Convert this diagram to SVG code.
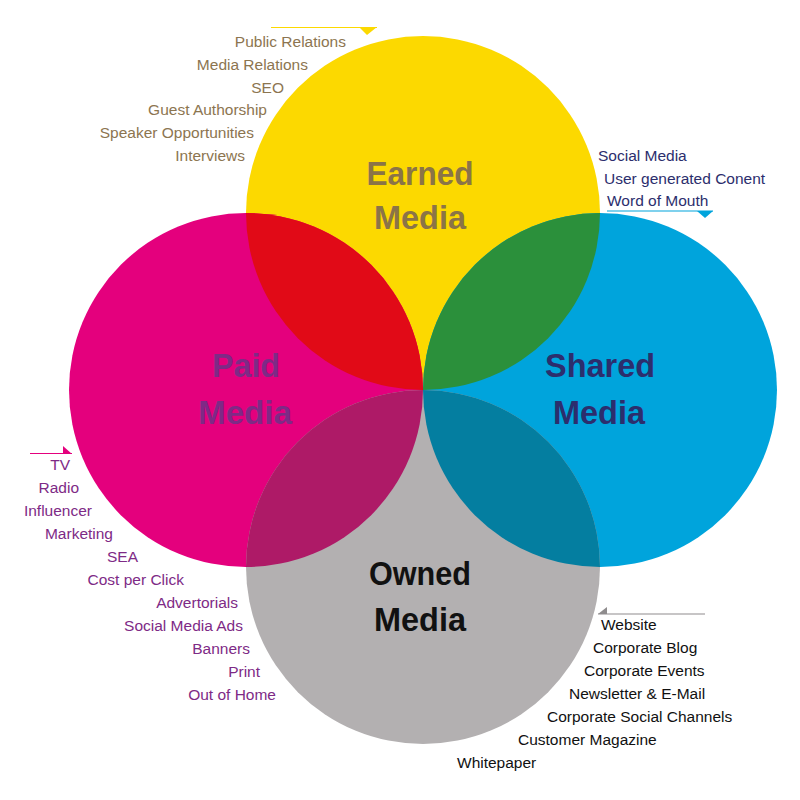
<svg xmlns="http://www.w3.org/2000/svg" width="800" height="800" viewBox="0 0 800 800">
<style>
.t{font-family:"Liberation Sans",Arial,sans-serif;font-weight:bold;font-size:34px;text-anchor:middle}
.s{font-family:"Liberation Sans",Arial,sans-serif;font-size:15.5px}
.e{text-anchor:end}
.earned{fill:#8C7550}
.paid{fill:#7E2A86}
.shared{fill:#2C2E6D}
.owned{fill:#111}
</style>
<rect width="800" height="800" fill="#fff"/>
<g id="circles">
<circle id="c-earned" cx="423" cy="213" r="177" fill="#FCD900"/>
<circle id="c-paid" cx="246" cy="390" r="177" fill="#E4007D"/>
<circle id="c-shared" cx="600" cy="390" r="177" fill="#00A4DC"/>
<circle id="c-owned" cx="423" cy="567" r="177" fill="#B3B0B1"/>
<path d="M246,213 A177,177 0 0 0 423,390 A177,177 0 0 0 246,213Z" fill="#E10A17"/>
<path d="M600,213 A177,177 0 0 1 423,390 A177,177 0 0 1 600,213Z" fill="#2B903B"/>
<path d="M423,390 A177,177 0 0 1 246,567 A177,177 0 0 1 423,390Z" fill="#AE1A67"/>
<path d="M423,390 A177,177 0 0 0 600,567 A177,177 0 0 0 423,390Z" fill="#047EA0"/>
</g>
<g id="connectors">
<line x1="271" y1="27.5" x2="377" y2="27.5" stroke="#FCD900" stroke-width="1.2"/>
<polygon points="359,27 377,27 367,35" fill="#FCD900"/>
<line x1="607" y1="211" x2="713" y2="211" stroke="#00A4DC" stroke-width="1.2"/>
<polygon points="697,211 713,211 705,218" fill="#00A4DC"/>
<line x1="30" y1="453.5" x2="72" y2="453.5" stroke="#E4007D" stroke-width="1.2"/>
<polygon points="63,446 72,454 63,454" fill="#E4007D"/>
<line x1="598" y1="614" x2="705" y2="614" stroke="#8F8C8D" stroke-width="1.2"/>
<polygon points="598,614 607,607 607,614" fill="#8F8C8D"/>
</g>
<g id="earned">
<text class="t" x="420" y="185" fill="#8B7447" textLength="107" lengthAdjust="spacingAndGlyphs">Earned</text>
<text class="t" x="420" y="229" fill="#8B7447" textLength="92" lengthAdjust="spacingAndGlyphs">Media</text>
<text class="s earned e" x="346" y="47">Public Relations</text>
<text class="s earned e" x="308" y="70">Media Relations</text>
<text class="s earned e" x="284" y="93">SEO</text>
<text class="s earned e" x="267" y="115">Guest Authorship</text>
<text class="s earned e" x="254" y="138">Speaker Opportunities</text>
<text class="s earned e" x="245" y="161">Interviews</text>
</g>
<g id="paid">
<text class="t paid" x="246" y="377" textLength="68" lengthAdjust="spacingAndGlyphs">Paid</text>
<text class="t paid" x="245" y="424" textLength="94" lengthAdjust="spacingAndGlyphs">Media</text>
<text class="s paid e" x="70" y="470">TV</text>
<text class="s paid e" x="79" y="493">Radio</text>
<text class="s paid e" x="92" y="516">Influencer</text>
<text class="s paid e" x="113" y="539">Marketing</text>
<text class="s paid e" x="138" y="562">SEA</text>
<text class="s paid e" x="184" y="585">Cost per Click</text>
<text class="s paid e" x="238" y="608">Advertorials</text>
<text class="s paid e" x="243" y="631">Social Media Ads</text>
<text class="s paid e" x="250" y="654">Banners</text>
<text class="s paid e" x="260" y="677">Print</text>
<text class="s paid e" x="276" y="700">Out of Home</text>
</g>
<g id="shared">
<text class="t shared" x="600" y="377" textLength="110" lengthAdjust="spacingAndGlyphs">Shared</text>
<text class="t shared" x="599" y="424" textLength="92" lengthAdjust="spacingAndGlyphs">Media</text>
<text class="s shared" x="598" y="161">Social Media</text>
<text class="s shared" x="604" y="184">User generated Conent</text>
<text class="s shared" x="607" y="206">Word of Mouth</text>
</g>
<g id="owned">
<text class="t owned" x="420" y="585" textLength="102" lengthAdjust="spacingAndGlyphs">Owned</text>
<text class="t owned" x="420" y="631" textLength="92" lengthAdjust="spacingAndGlyphs">Media</text>
<text class="s owned" x="601" y="630">Website</text>
<text class="s owned" x="593" y="653">Corporate Blog</text>
<text class="s owned" x="584" y="676">Corporate Events</text>
<text class="s owned" x="569" y="699">Newsletter &amp; E-Mail</text>
<text class="s owned" x="547" y="722">Corporate Social Channels</text>
<text class="s owned" x="518" y="745">Customer Magazine</text>
<text class="s owned" x="457" y="768">Whitepaper</text>
</g>
</svg>
